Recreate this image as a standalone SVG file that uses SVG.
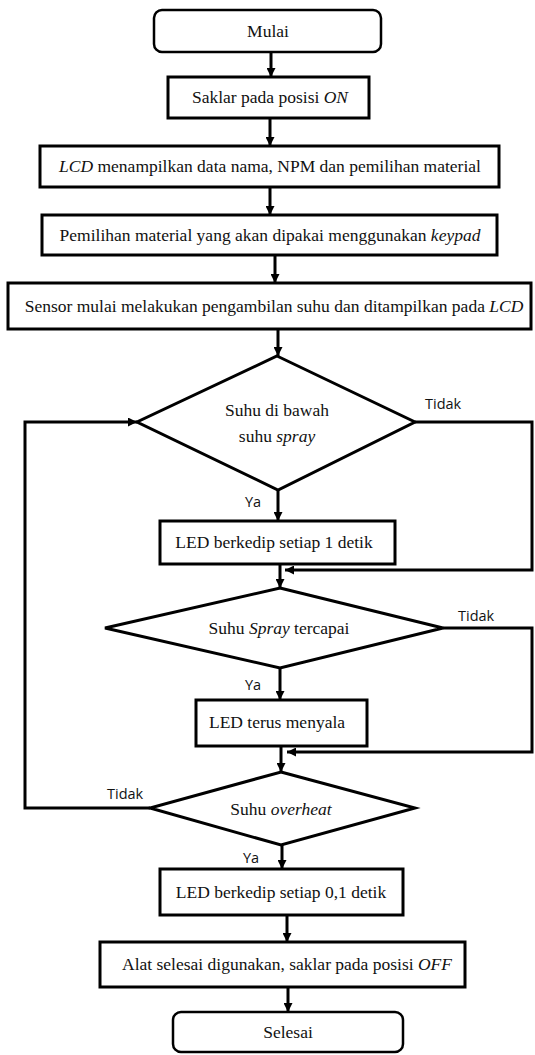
<svg xmlns="http://www.w3.org/2000/svg" width="535" height="1055" viewBox="0 0 535 1055">
<style>
.box{fill:#fff;stroke:#000;stroke-width:3}
.term{fill:#fff;stroke:#000;stroke-width:2.5}
.t{font-family:"Liberation Serif","Times New Roman",serif;font-size:17.5px;fill:#111;text-anchor:middle}
.lbl{font-family:"Open Sans","Noto Sans",sans-serif;font-size:14.5px;fill:#111}
.c{fill:none;stroke:#000;stroke-width:3}
</style>
<defs>
<marker id="ah" viewBox="0 0 10 10" refX="10" refY="5" markerWidth="9" markerHeight="9" markerUnits="userSpaceOnUse" orient="auto">
<path d="M0,0 L10,5 L0,10 z" fill="#000"/>
</marker>
</defs>
<rect width="535" height="1055" fill="#fff"/>
<g id="connectors">
<line class="c" x1="271" y1="52" x2="271" y2="77" marker-end="url(#ah)"/>
<line class="c" x1="270" y1="118" x2="270" y2="146" marker-end="url(#ah)"/>
<line class="c" x1="270" y1="187" x2="270" y2="215" marker-end="url(#ah)"/>
<line class="c" x1="275" y1="255" x2="275" y2="283" marker-end="url(#ah)"/>
<line class="c" x1="278" y1="329" x2="278" y2="356" marker-end="url(#ah)"/>
<line class="c" x1="278" y1="490" x2="278" y2="521" marker-end="url(#ah)"/>
<polyline class="c" points="415,422 532,422 532,570 285,570" marker-end="url(#ah)"/>
<line class="c" x1="280" y1="564" x2="280" y2="588" marker-end="url(#ah)"/>
<polyline class="c" points="443,628 532,628 532,752 287,752" marker-end="url(#ah)"/>
<line class="c" x1="280" y1="668" x2="280" y2="700" marker-end="url(#ah)"/>
<line class="c" x1="281" y1="746" x2="281" y2="772" marker-end="url(#ah)"/>
<polyline class="c" points="150,808 25,808 25,422 137,422" marker-end="url(#ah)"/>
<line class="c" x1="282" y1="845" x2="282" y2="869" marker-end="url(#ah)"/>
<line class="c" x1="287" y1="915" x2="287" y2="942" marker-end="url(#ah)"/>
<line class="c" x1="288" y1="987" x2="288" y2="1012" marker-end="url(#ah)"/>
</g>
<g id="n-mulai">
<rect class="term" x="154" y="10" width="227" height="42" rx="8"/>
<text class="t" x="268" y="37">Mulai</text>
</g>
<g id="n-saklar-on">
<rect class="box" x="168" y="77" width="201" height="41"/>
<text class="t" x="270" y="103">Saklar pada posisi <tspan font-style="italic">ON</tspan></text>
</g>
<g id="n-lcd">
<rect class="box" x="40" y="146" width="459" height="41"/>
<text class="t" x="270" y="172"><tspan font-style="italic">LCD</tspan> menampilkan data nama, NPM dan pemilihan material</text>
</g>
<g id="n-pemilihan">
<rect class="box" x="42" y="215" width="455" height="40"/>
<text class="t" x="270" y="241">Pemilihan material yang akan dipakai menggunakan <tspan font-style="italic">keypad</tspan></text>
</g>
<g id="n-sensor">
<rect class="box" x="8" y="283" width="523" height="46"/>
<text class="t" x="274" y="312">Sensor mulai melakukan pengambilan suhu dan ditampilkan pada <tspan font-style="italic">LCD</tspan></text>
</g>
<g id="d-suhu-bawah">
<polygon class="box" points="277,356 415,422 278,490 137,422"/>
<text class="t" x="277" y="416">Suhu di bawah</text>
<text class="t" x="277" y="442">suhu <tspan font-style="italic">spray</tspan></text>
<text class="lbl" x="425" y="409">Tidak</text>
<text class="lbl" x="245" y="507">Ya</text>
</g>
<g id="n-led-1">
<rect class="box" x="160" y="521" width="235" height="43"/>
<text class="t" x="274" y="548">LED berkedip setiap 1 detik</text>
</g>
<g id="d-suhu-spray">
<polygon class="box" points="280,588 443,628 280,668 105,628"/>
<text class="t" x="279" y="634">Suhu <tspan font-style="italic">Spray</tspan> tercapai</text>
<text class="lbl" x="458" y="621">Tidak</text>
<text class="lbl" x="245" y="690">Ya</text>
</g>
<g id="n-led-nyala">
<rect class="box" x="196" y="700" width="171" height="46"/>
<text class="t" x="277" y="728">LED terus menyala</text>
</g>
<g id="d-overheat">
<polygon class="box" points="281,772 415,808 281,845 150,808"/>
<text class="t" x="281" y="815">Suhu <tspan font-style="italic">overheat</tspan></text>
<text class="lbl" x="107" y="799">Tidak</text>
<text class="lbl" x="243" y="863">Ya</text>
</g>
<g id="n-led-01">
<rect class="box" x="160" y="869" width="243" height="46"/>
<text class="t" x="281" y="898">LED berkedip setiap 0,1 detik</text>
</g>
<g id="n-alat-off">
<rect class="box" x="100" y="942" width="365" height="45"/>
<text class="t" x="287" y="970">Alat selesai digunakan, saklar pada posisi <tspan font-style="italic">OFF</tspan></text>
</g>
<g id="n-selesai">
<rect class="term" x="173" y="1012" width="230" height="40" rx="8"/>
<text class="t" x="288" y="1038">Selesai</text>
</g>
</svg>
